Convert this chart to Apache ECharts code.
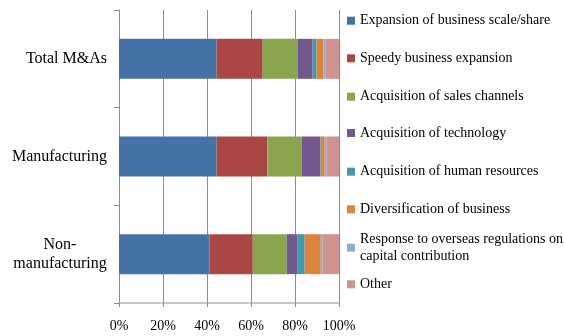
<!DOCTYPE html>
<html>
<head>
<meta charset="utf-8">
<script src="https://cdn.jsdelivr.net/npm/echarts@6/dist/echarts.min.js"></script>
<style>
  html, body { margin: 0; padding: 0; background: #fff; }
  #chart { width: 564px; height: 336px; }
</style>
</head>
<body>
<div id="chart"></div>
<script>
// Motives for M&A, share of responses (%) by sector
var categories = ['Total M&As', 'Manufacturing', 'Non-\nmanufacturing'];

var seriesNames = [
  'Expansion of business scale/share',
  'Speedy business expansion',
  'Acquisition of sales channels',
  'Acquisition of technology',
  'Acquisition of human resources',
  'Diversification of business',
  'Response to overseas regulations on capital contribution',
  'Other'
];

var expansionScale   = [44.4, 44.4, 41.1];
var speedyExpansion  = [20.9, 23.0, 19.7];
var salesChannels    = [15.9, 15.6, 15.4];
var technology       = [6.8, 8.4, 5.0];
var humanResources   = [1.8, 0.3, 3.2];
var diversification  = [3.1, 1.8, 7.3];
var overseasRegs     = [0.9, 0.9, 0.9];
var other            = [6.2, 5.6, 7.4];

var xTicks = [0, 20, 40, 60, 80, 100];

var values = [expansionScale, speedyExpansion, salesChannels, technology,
              humanResources, diversification, overseasRegs, other];
var colors = ['#4572A7', '#AA4643', '#89A54E', '#71588F',
              '#4198AF', '#DB843D', '#93A9CF', '#D19392'];

var serif = '"Liberation Serif", "Times New Roman", serif';

var series = seriesNames.map(function (name, i) {
  return {
    name: name,
    type: 'bar',
    stack: 'motives',
    barWidth: 40,
    data: values[i],
    itemStyle: { color: colors[i] },
    emphasis: { disabled: true }
  };
});

// one legend block per entry so each row sits at its own height
var legendCenters = [20.7, 58.3, 96.7, 133, 171.7, 209.3, 247.7, 284.3];
var legends = seriesNames.map(function (name, i) {
  var multi = (i === 6);
  return {
    data: [name],
    left: 347,
    top: multi ? legendCenters[i] - 25.5 : legendCenters[i] - 8.5,
    padding: 0,
    itemWidth: 8,
    itemHeight: 8,
    itemGap: 0,
    icon: 'rect',
    selectedMode: false,
    formatter: multi ? function () { return 'Response to overseas regulations on\ncapital contribution'; } : '{name}',
    textStyle: {
      fontFamily: serif,
      fontSize: 14,
      color: '#000',
      lineHeight: 17,
      padding: multi ? [17, 0, 0, 0] : 0
    }
  };
});

var chart = echarts.init(document.getElementById('chart'), null, { renderer: 'canvas' });
chart.setOption({
  animation: false,
  backgroundColor: '#fff',
  grid: { left: 119, right: 225, top: 10, bottom: 33, containLabel: false },
  legend: legends,
  xAxis: {
    type: 'value',
    min: xTicks[0],
    max: xTicks[xTicks.length - 1],
    interval: xTicks[1] - xTicks[0],
    axisLine: { show: true, lineStyle: { color: '#b4b4b4', width: 1.5 } },
    axisTick: { show: true, length: 4, lineStyle: { color: '#8c8c8c' } },
    splitLine: { show: true, lineStyle: { color: '#8c8c8c', width: 1 } },
    axisLabel: {
      formatter: '{value}%',
      fontFamily: serif,
      fontSize: 14,
      color: '#000',
      margin: 16
    }
  },
  yAxis: {
    type: 'category',
    inverse: true,
    data: categories,
    axisLine: { show: true, lineStyle: { color: '#8c8c8c', width: 1 } },
    axisTick: { show: true, length: 5, lineStyle: { color: '#8c8c8c' } },
    axisLabel: {
      fontFamily: serif,
      fontSize: 16,
      color: '#000',
      margin: 12,
      align: 'right',
      lineHeight: 19,
      formatter: function (v) {
        if (v.indexOf('\n') < 0) return v;
        // multi-line label: centre each line inside a fixed-width block
        return v.split('\n').map(function (s) { return '{c|' + s + '}'; }).join('\n');
      },
      rich: {
        c: { width: 94, align: 'center', fontFamily: serif, fontSize: 16, lineHeight: 19, color: '#000' }
      }
    }
  },
  series: series
});
</script>
</body>
</html>
